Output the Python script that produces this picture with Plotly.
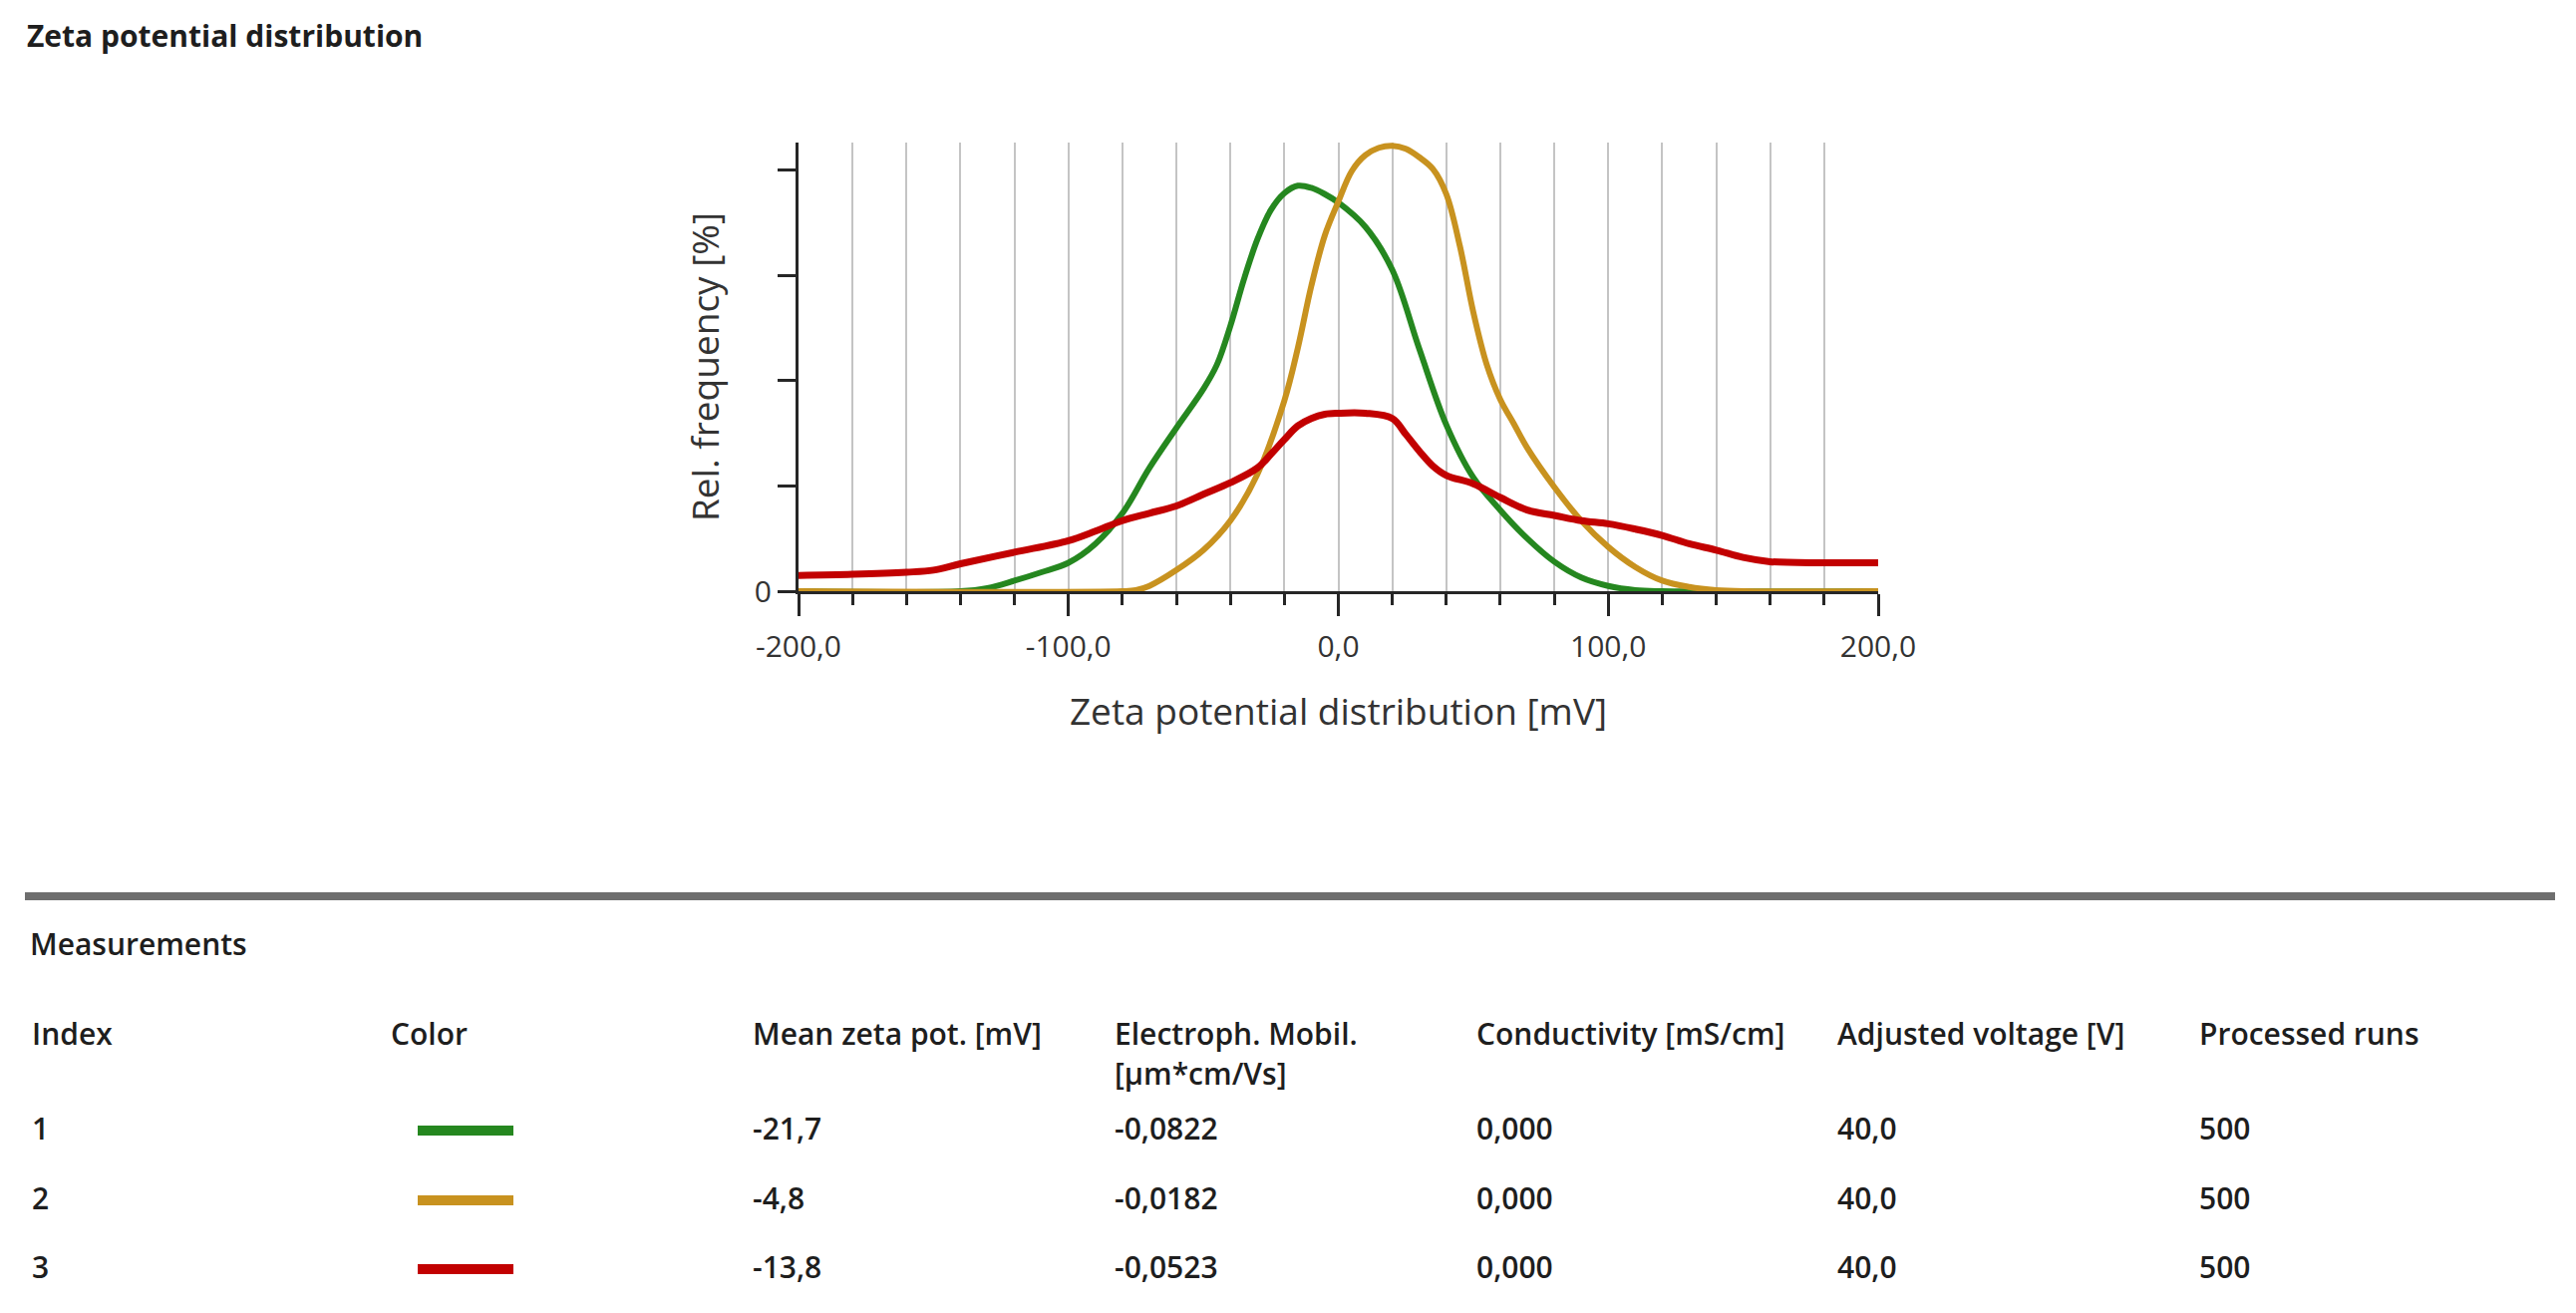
import plotly.graph_objects as go

# curves (x in mV, y in relative units; y ticks at 0..4)
green_x = [-200, -140, -130, -120, -110, -100, -90, -80, -70, -60, -50, -45, -40, -35,
           -30, -25, -20, -15, -10, -5, 0, 10, 20, 30, 40, 50, 60, 70, 80, 90, 100, 110, 120, 200]
green_y = [0, 0, 0.03, 0.10, 0.18, 0.27, 0.45, 0.74, 1.17, 1.55, 1.92, 2.15, 2.52, 2.96,
           3.34, 3.62, 3.78, 3.85, 3.83, 3.77, 3.69, 3.46, 3.05, 2.30, 1.58, 1.08, 0.77,
           0.50, 0.28, 0.13, 0.05, 0.01, 0, 0]

orange_x = [-200, -80, -75, -70, -60, -50, -40, -30, -20, -15, -10, -5, 0, 5, 10, 15, 20,
            25, 30, 35, 40, 45, 50, 55, 60, 65, 70, 80, 90, 100, 110, 120, 130, 140, 150, 200]
orange_y = [0, 0, 0.01, 0.05, 0.20, 0.39, 0.67, 1.11, 1.81, 2.31, 2.90, 3.38, 3.70, 3.99,
            4.14, 4.21, 4.23, 4.20, 4.12, 4.01, 3.77, 3.28, 2.65, 2.15, 1.82, 1.59, 1.36,
            0.99, 0.67, 0.42, 0.23, 0.10, 0.04, 0.01, 0, 0]

red_x = [-200, -180, -160, -150, -140, -120, -100, -90, -80, -70, -60, -50, -40, -30, -25,
         -20, -15, -10, -5, 0, 10, 20, 25, 30, 35, 40, 50, 60, 70, 80, 90, 100, 110, 120,
         130, 140, 150, 160, 180, 200]
red_y = [0.15, 0.16, 0.18, 0.20, 0.26, 0.37, 0.48, 0.57, 0.67, 0.74, 0.81, 0.92, 1.03, 1.17,
         1.30, 1.44, 1.57, 1.64, 1.68, 1.69, 1.69, 1.64, 1.49, 1.33, 1.19, 1.10, 1.02, 0.89,
         0.77, 0.72, 0.67, 0.64, 0.59, 0.53, 0.45, 0.39, 0.32, 0.28, 0.27, 0.27]

x_tick_vals = [-200, -100, 0, 100, 200]
x_tick_text = ["-200,0", "-100,0", "0,0", "100,0", "200,0"]
y_tick_vals = [0, 1, 2, 3, 4]
y_tick_text = ["0", "", "", "", ""]

# measurements table
meas_index = [1, 2, 3]
mean_zeta = [-21.7, -4.8, -13.8]
mobility = [-0.0822, -0.0182, -0.0523]
conductivity = [0.000, 0.000, 0.000]
adj_voltage = [40.0, 40.0, 40.0]
proc_runs = [500, 500, 500]
series_colors = ["#25871f", "#c8921f", "#c20000"]

PAGE_W, PAGE_H = 2584, 1317
OFF = 8  # body margin of the html page
W, H = PAGE_W - 2 * OFF, PAGE_H - 2 * OFF
L, R, T, B = 801, 1884, 143, 593  # plot area in window px


def px(x):
    return (x - L) / (R - L)


def py(y):
    return (B - y) / (B - T)


def dec(v, n):
    return f"{v:.{n}f}".replace(".", ",")


fig = go.Figure()
curves = [(green_x, green_y, 6), (orange_x, orange_y, 6), (red_x, red_y, 7)]
for (xs, ys, w), col in zip(curves, series_colors):
    fig.add_trace(go.Scatter(
        x=xs, y=ys, mode="lines",
        line=dict(color=col, width=w, shape="spline", smoothing=1.0),
        hoverinfo="skip", showlegend=False,
    ))

axis_dark = "#262626"
grid_col = "#c4c4c4"
chart_txt = "#333333"

fig.update_xaxes(
    range=[-200, 200], tickmode="array", tickvals=x_tick_vals, ticktext=x_tick_text,
    ticks="outside", ticklen=22, tickwidth=3, tickcolor=axis_dark,
    showline=True, linecolor=axis_dark, linewidth=3,
    showgrid=True, gridcolor=grid_col, gridwidth=2, zeroline=False,
    minor=dict(tick0=0, dtick=20, ticks="outside", ticklen=11, tickwidth=3,
               tickcolor=axis_dark, showgrid=True, gridcolor=grid_col, gridwidth=2),
    tickfont=dict(size=30, color=chart_txt), ticklabelstandoff=5,
    title=dict(text="Zeta potential distribution [mV]", font=dict(size=37, color=chart_txt),
               standoff=35),
    layer="below traces", fixedrange=True,
)
fig.update_yaxes(
    range=[0, 4.26], tickmode="array", tickvals=y_tick_vals, ticktext=y_tick_text,
    ticks="outside", ticklen=18, tickwidth=3, tickcolor=axis_dark,
    showline=True, linecolor=axis_dark, linewidth=3,
    showgrid=False, zeroline=False,
    tickfont=dict(size=30, color=chart_txt),
    title=dict(text="Rel. frequency [%]", font=dict(size=37, color=chart_txt), standoff=24),
    layer="below traces", fixedrange=True,
)

annotations = []
shapes = []

tfont = dict(family="Open Sans", size=30, color="#1e1e1e", weight=600)


def label(text, x, y, font=tfont):
    annotations.append(dict(text=text, x=px(x), y=py(y), xref="paper", yref="paper",
                            xanchor="left", yanchor="middle", showarrow=False, font=font))


label("Zeta potential distribution", 25, 36, dict(tfont, size=30, weight=700))
label("Measurements", 28, 946)

shapes.append(dict(type="line", xref="paper", yref="paper", x0=px(25), x1=px(2563),
                   y0=py(899), y1=py(899), line=dict(color="#6e6e6e", width=8)))

col_x = [30, 390, 753, 1116, 1479, 1841, 2204]
headers = ["Index", "Color", "Mean zeta pot. [mV]", "Electroph. Mobil.",
           "Conductivity [mS/cm]", "Adjusted voltage [V]", "Processed runs"]
for cx, h in zip(col_x, headers):
    label(h, cx, 1036)
label("[µm*cm/Vs]", col_x[3], 1076)

row_y = [1131, 1201, 1270]
for i, ry in enumerate(row_y):
    label(str(meas_index[i]), col_x[0], ry)
    shapes.append(dict(type="line", xref="paper", yref="paper", x0=px(419), x1=px(515),
                       y0=py(ry + 3), y1=py(ry + 3),
                       line=dict(color=series_colors[i], width=10)))
    label(dec(mean_zeta[i], 1), col_x[2], ry)
    label(dec(mobility[i], 4), col_x[3], ry)
    label(dec(conductivity[i], 3), col_x[4], ry)
    label(dec(adj_voltage[i], 1), col_x[5], ry)
    label(str(proc_runs[i]), col_x[6], ry)

fig.update_layout(
    width=W, height=H,
    margin=dict(l=L - OFF, r=(PAGE_W - OFF) - R, t=T - OFF, b=(PAGE_H - OFF) - B, pad=0),
    plot_bgcolor="white", paper_bgcolor="white",
    font=dict(family="Open Sans", color=chart_txt),
    showlegend=False,
    annotations=annotations, shapes=shapes,
)

fig.write_html("out.html")
